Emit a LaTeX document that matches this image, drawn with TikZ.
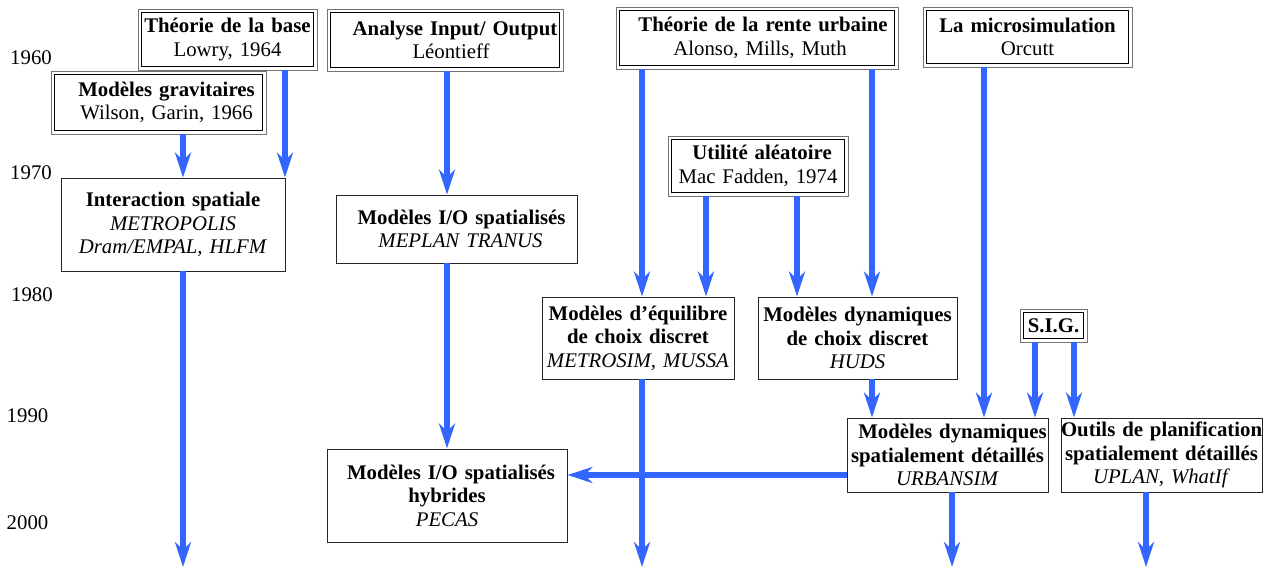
\documentclass[tikz,border=0pt]{standalone}
\usepackage{fontspec}
\setmainfont{Liberation Serif}
\usetikzlibrary{arrows.meta}
\definecolor{arrblue}{RGB}{51,102,255}
\begin{document}
\begin{tikzpicture}[x=1pt,y=-1pt,
  every node/.style={font=\fontsize{20.8}{23.5}\selectfont, inner sep=0pt},
  bx/.style 2 args={minimum width=#1, text width=#1, minimum height=#2, align=center},
  single/.style={draw=black!85, line width=0.9pt},
  dbl/.style={draw=black!55, line width=0.8pt},
  innerframe/.style={draw=black, line width=1.1pt},
  year/.style={anchor=center},
  arr/.style={draw=arrblue, line width=5.5pt, -{Stealth[length=25pt,width=16pt,inset=8pt]}}
]
\useasboundingbox (0,0) rectangle (1276,569);

% years
\node[year] (y60) at (31,57.5) {1960};
\node[year] (y70) at (31,173) {1970};
\node[year] (y80) at (32,294.5) {1980};
\node[year] (y90) at (27.5,415.5) {1990};
\node[year] (y00) at (27.5,522.5) {2000};

% boxes
\node[dbl, bx={179pt}{61pt}] (A) at (227.5,39.5) {\textbf{Théorie de la base}\\Lowry, 1964};
\node[dbl, bx={215pt}{63pt}] (B) at (158.5,102.5) {\hspace*{16pt}\textbf{Modèles gravitaires}\\\hspace*{16pt}Wilson, Garin, 1966};
\node[single, bx={224pt}{93pt}] (C) at (173,224.5) {\textbf{Interaction spatiale}\\\textit{METROPOLIS}\\\textit{Dram/EMPAL, HLFM}};
\node[dbl, bx={236pt}{62pt}] (D) at (445,40) {\hspace*{20pt}\textbf{Analyse Input/ Output}\\\hspace*{12pt}Léontieff};
\node[single, bx={241pt}{68pt}] (E) at (456.5,229) {\hspace*{10pt}\textbf{Modèles I/O spatialisés}\\\hspace*{8pt}\textit{MEPLAN TRANUS}};
\node[dbl, bx={282pt}{62pt}] (F) at (757,38) {\hspace*{12pt}\textbf{Théorie de la rente urbaine}\\\hspace*{6pt}Alonso, Mills, Muth};
\node[dbl, bx={209pt}{60pt}] (G) at (1027.5,37) {\textbf{La microsimulation}\\Orcutt};
\node[dbl, bx={180pt}{60pt}] (H) at (758,166) {\hspace*{8pt}\textbf{Utilité aléatoire}\\Mac Fadden, 1974};
\node[single, bx={192pt}{82pt}] (I) at (638,338) {\textbf{Modèles d’équilibre}\\\textbf{de choix discret}\\\textit{METROSIM, MUSSA}};
\node[single, bx={199pt}{82pt}] (J) at (857.5,338) {\textbf{Modèles dynamiques}\\\textbf{de choix discret}\\\textit{HUDS}};
\node[dbl, bx={67pt}{33pt}] (K) at (1053.5,325.5) {\textbf{S.I.G.}};
\node[single, bx={201pt}{74pt}] (L) at (947.5,455) {\hspace*{10pt}\textbf{Modèles dynamiques}\\\textbf{spatialement détaillés}\\\textit{URBANSIM}};
\node[single, bx={201pt}{74pt}] (M) at (1161.5,455) {\mbox{\textbf{Outils de planification}}\\\mbox{\textbf{spatialement détaillés}}\\\textit{UPLAN, WhatIf}};
\node[single, bx={240pt}{93pt}] (N) at (447,495.5) {\hspace*{8pt}\textbf{Modèles I/O spatialisés}\\\textbf{hybrides}\\\textit{PECAS}};

% inner frames of the double boxes
\foreach \n in {A,B,D,F,G,H,K}
  \draw[innerframe] ([shift={(3.5,3.5)}]\n.north west) rectangle ([shift={(-3.5,-3.5)}]\n.south east);

% columns / rows
\coordinate (c183) at (183,0);
\coordinate (c285) at (285,0);
\coordinate (c447) at (447,0);
\coordinate (c642) at (642,0);
\coordinate (c706) at (706,0);
\coordinate (c797) at (797,0);
\coordinate (c872) at (872,0);
\coordinate (c984) at (984,0);
\coordinate (c1035) at (1035,0);
\coordinate (c1074) at (1074,0);
\coordinate (c952) at (952,0);
\coordinate (c1146) at (1146,0);
\coordinate (r475) at (0,475);
\coordinate (e1) at (183,567);
\coordinate (e2) at (642,567);
\coordinate (e3) at (952,567);
\coordinate (e4) at (1146,567);

% connectors
\draw[arr] (B.south -| c183) -- (C.north -| c183);
\draw[arr] (A.south -| c285) -- (C.north -| c285);
\draw[arr] (C.south -| c183) -- (e1);
\draw[arr] (D.south -| c447) -- (E.north -| c447);
\draw[arr] (E.south -| c447) -- (N.north -| c447);
\draw[arr] (F.south -| c642) -- (I.north -| c642);
\draw[arr] (F.south -| c872) -- (J.north -| c872);
\draw[arr] (H.south -| c706) -- (I.north -| c706);
\draw[arr] (H.south -| c797) -- (J.north -| c797);
\draw[arr] (I.south -| c642) -- (e2);
\draw[arr] (J.south -| c872) -- (L.north -| c872);
\draw[arr] (G.south -| c984) -- (L.north -| c984);
\draw[arr] (K.south -| c1035) -- (L.north -| c1035);
\draw[arr] (K.south -| c1074) -- (M.north -| c1074);
\draw[arr] (L.west |- r475) -- (N.east |- r475);
\draw[arr] (L.south -| c952) -- (e3);
\draw[arr] (M.south -| c1146) -- (e4);
\end{tikzpicture}
\end{document}
